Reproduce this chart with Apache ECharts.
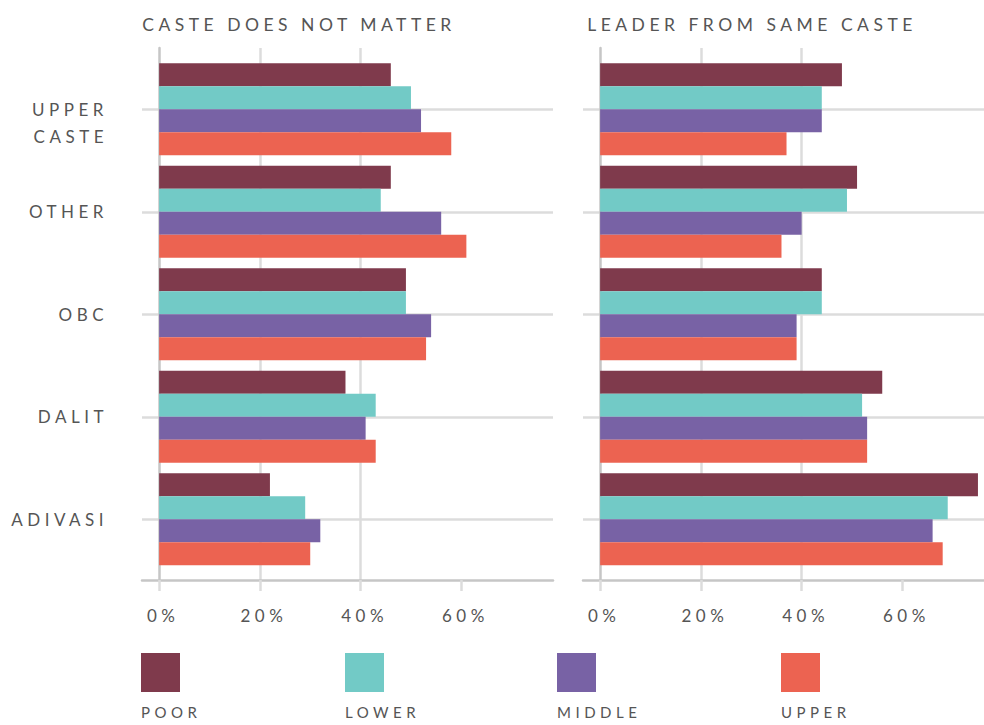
<!DOCTYPE html>
<html>
<head>
<meta charset="utf-8">
<title>Caste and leadership</title>
<script src="https://cdn.jsdelivr.net/npm/echarts@6/dist/echarts.min.js"></script>
<style>
  body { margin: 0; background: #fff; }
  /* the reference uses wide tracking; svg text inherits it */
  #main { width: 984px; height: 725px; letter-spacing: 4.5px; }
</style>
</head>
<body>
<div id="main"></div>
<script>
var groups = ['UPPER\nCASTE', 'OTHER', 'OBC', 'DALIT', 'ADIVASI'];
var classes = ['POOR', 'LOWER', 'MIDDLE', 'UPPER'];
var colors = ['#7f3a4c', '#72cac6', '#7862a5', '#ec6351'];
var panelTitles = ['CASTE DOES NOT MATTER', 'LEADER FROM SAME CASTE'];
var tickValues = [0, 20, 40, 60];

// share in %, one value per caste group (top to bottom)
var notMatterPoor   = [46, 46, 49, 37, 22];
var notMatterLower  = [50, 44, 49, 43, 29];
var notMatterMiddle = [52, 56, 54, 41, 32];
var notMatterUpper  = [58, 61, 53, 43, 30];

var sameCastePoor   = [48, 51, 44, 56, 75];
var sameCasteLower  = [44, 49, 44, 52, 69];
var sameCasteMiddle = [44, 40, 39, 53, 66];
var sameCasteUpper  = [37, 36, 39, 53, 68];

var panelData = [
  [notMatterPoor, notMatterLower, notMatterMiddle, notMatterUpper],
  [sameCastePoor, sameCasteLower, sameCasteMiddle, sameCasteUpper]
];

// layout of the two panels
var panels = [
  { left: 142, width: 411, max: 78.2, titleX: 294, labels: true },
  { left: 583, width: 401, max: 76.2, titleX: 747, labels: false }
];
var legendX = [141, 345, 557, 781];

var textColor = '#555555';
var axisColor = '#c6c6c6';
var gridColor = '#dcdcdc';
var font = 'Lato';

var grid = [], xAxis = [], yAxis = [], series = [], title = [];

panels.forEach(function (p, i) {
  var deco = grid.length;
  // frame grid: axis lines, vertical grid lines, ticks, tick labels
  grid.push({ left: p.left, top: 48, width: p.width, height: 532 });
  // bar grid
  grid.push({ left: p.left, top: 58, width: p.width, height: 512.5 });

  xAxis.push({
    gridIndex: deco, type: 'value', min: -3.4, max: p.max,
    axisLine: { show: true, lineStyle: { color: axisColor, width: 2.5 } },
    axisTick: { show: true, customValues: tickValues, length: 11, lineStyle: { color: gridColor, width: 2.5 } },
    splitLine: { show: true, showMinLine: false, showMaxLine: false, lineStyle: { color: gridColor, width: 2.5 } },
    axisLabel: {
      customValues: tickValues, formatter: '{value}%', margin: 27, padding: [0, 0, 0, 8],
      color: textColor, fontFamily: font, fontSize: 17
    }
  });
  xAxis.push({ gridIndex: deco + 1, type: 'value', min: -3.4, max: p.max, show: false });

  yAxis.push({
    gridIndex: deco, type: 'value', min: 0, max: 1,
    axisLine: { show: true, lineStyle: { color: axisColor, width: 2.5 } },
    axisTick: { show: false }, axisLabel: { show: false }, splitLine: { show: false }
  });
  yAxis.push({
    gridIndex: deco + 1, type: 'category', inverse: true, data: groups,
    axisLine: { show: false }, axisTick: { show: false },
    splitLine: { show: true, alignWithLabel: true, lineStyle: { color: gridColor, width: 2.5 } },
    axisLabel: {
      show: p.labels, margin: 34, color: textColor, fontFamily: font, fontSize: 17, lineHeight: 27,
      // two-line label: first line sits on the group centre
      formatter: function (v) { return v.indexOf('\n') >= 0 ? '\n' + v : v; }
    }
  });

  classes.forEach(function (c, k) {
    series.push({
      name: c, type: 'bar', xAxisIndex: deco + 1, yAxisIndex: deco + 1,
      data: panelData[i][k], barWidth: 23, barGap: 0,
      itemStyle: { color: colors[k] }, silent: true
    });
  });

  title.push({
    text: panelTitles[i], left: p.titleX, top: 10, textAlign: 'center',
    textStyle: { color: textColor, fontFamily: font, fontSize: 17.5, fontWeight: 'normal' }
  });
});

// legend: swatch with the class name underneath
var graphic = [];
classes.forEach(function (c, k) {
  graphic.push({
    type: 'rect', left: legendX[k], top: 653,
    shape: { width: 39, height: 39 }, style: { fill: colors[k] }
  });
  graphic.push({
    type: 'text', left: legendX[k], top: 704,
    style: { text: c, fill: textColor, font: '15px ' + font }
  });
});

var myChart = echarts.init(document.getElementById('main'), null, { renderer: 'svg' });
myChart.setOption({
  animation: false,
  title: title,
  grid: grid,
  xAxis: xAxis,
  yAxis: yAxis,
  series: series,
  graphic: graphic
});
</script>
</body>
</html>
